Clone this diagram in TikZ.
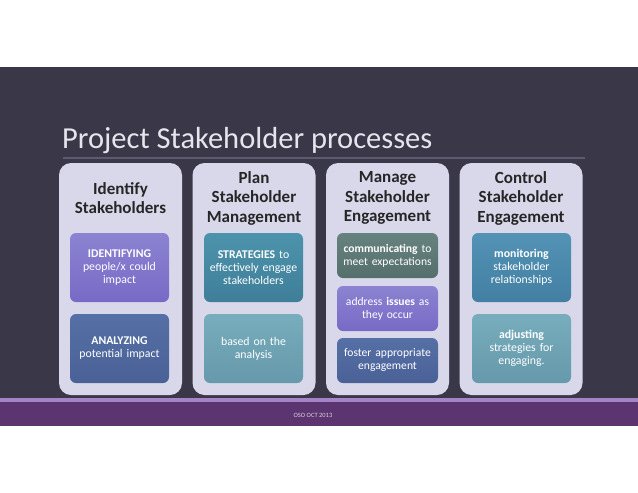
\documentclass[tikz,border=0pt]{standalone}
\usepackage{fontspec}
\setmainfont{Carlito}

\definecolor{slidebg}{HTML}{3A3748}
\definecolor{ruleline}{HTML}{5E5A70}
\definecolor{titletext}{HTML}{E6E4EC}
\definecolor{panel}{HTML}{D9D8EB}
\definecolor{stripe}{HTML}{A484C4}
\definecolor{footerbg}{HTML}{5C3470}
\definecolor{violetA}{HTML}{8C83D1}
\definecolor{violetB}{HTML}{776AC6}
\definecolor{navyA}{HTML}{5570A6}
\definecolor{navyB}{HTML}{4A6196}
\definecolor{tealA}{HTML}{4D93AC}
\definecolor{tealB}{HTML}{3F7E98}
\definecolor{paletealA}{HTML}{78ADBD}
\definecolor{paletealB}{HTML}{6599AB}
\definecolor{slateA}{HTML}{66827F}
\definecolor{slateB}{HTML}{566F6C}
\definecolor{skyA}{HTML}{5393B5}
\definecolor{skyB}{HTML}{437FA2}

\tikzset{
  column/.style={fill=panel, rounded corners=12pt, minimum width=123pt,
    minimum height=232pt, inner sep=0pt},
  coltitle/.style={text=black!85, align=center,
    font=\fontsize{17}{19.5}\selectfont\bfseries},
  itembox/.style={rounded corners=6pt, text=white, align=center,
    minimum width=99pt, text width=97pt, inner sep=1pt,
    font=\fontsize{11.8}{13}\selectfont},
  tallbox/.style={itembox, minimum height=69pt},
  shortbox/.style={itembox, minimum height=45pt, minimum width=101pt,
    text width=99pt, font=\fontsize{11.6}{13}\selectfont},
}

\begin{document}
\begin{tikzpicture}[x=1pt, y=-1pt]
  \useasboundingbox (0,0) rectangle (638,493);
  \fill[white] (0,0) rectangle (638,493);

  % slide background and footer
  \fill[slidebg] (0,67) rectangle (638,398);
  \fill[stripe] (0,398) rectangle (638,402);
  \fill[footerbg] (0,402) rectangle (638,426);
  \node[text=titletext!90!footerbg, font=\fontsize{6.5}{7}\selectfont] (footer) at (313,415) {OSO OCT 2013};

  % title
  \node[anchor=base west, inner sep=0pt, text=titletext, font=\fontsize{30.5}{34}\selectfont] (title) at (62,148) {Project Stakeholder processes};
  \draw[ruleline, line width=1.5pt] (63,158) -- (585,158);

  % columns
  \node[column] (ident) at (120.5,279) {};
  \node[column] (plan) at (254,279) {};
  \node[column] (manage) at (387.5,279) {};
  \node[column] (control) at (521,279) {};

  \node[coltitle] (identT) at (120.5,198) {Identify\\Stakeholders};
  \node[coltitle] (planT) at (254,198) {Plan\\Stakeholder\\Management};
  \node[coltitle] (manageT) at (387.5,198) {Manage\\Stakeholder\\Engagement};
  \node[coltitle] (controlT) at (521,198) {Control\\Stakeholder\\Engagement};

  % identify
  \node[tallbox, top color=violetA, bottom color=violetB] (identA) at (119.5,267.5) {\textbf{IDENTIFYING}\\people/x could\\impact};
  \node[tallbox, top color=navyA, bottom color=navyB] (identB) at (119.5,348.5) {\textbf{ANALYZING}\\potential impact};

  % plan
  \node[tallbox, top color=tealA, bottom color=tealB] (planA) at (253.5,267.5) {\textbf{STRATEGIES} to\\effectively engage\\stakeholders};
  \node[tallbox, top color=paletealA, bottom color=paletealB] (planB) at (253.5,348.5) {based on the\\analysis};

  % manage
  \node[shortbox, top color=slateA, bottom color=slateB] (manageA) at (387.5,255.5) {\textbf{communicating} to\\meet expectations};
  \node[shortbox, top color=violetA, bottom color=violetB] (manageB) at (387.5,308.5) {address \textbf{issues} as\\they occur};
  \node[shortbox, top color=navyA, bottom color=navyB] (manageC) at (387.5,360.5) {foster appropriate\\engagement};

  % control
  \node[tallbox, top color=skyA, bottom color=skyB] (controlA) at (521.5,267.5) {\textbf{monitoring}\\stakeholder\\relationships};
  \node[tallbox, top color=paletealA, bottom color=paletealB] (controlB) at (521.5,348.5) {\textbf{adjusting}\\strategies for\\engaging.};
\end{tikzpicture}
\end{document}
